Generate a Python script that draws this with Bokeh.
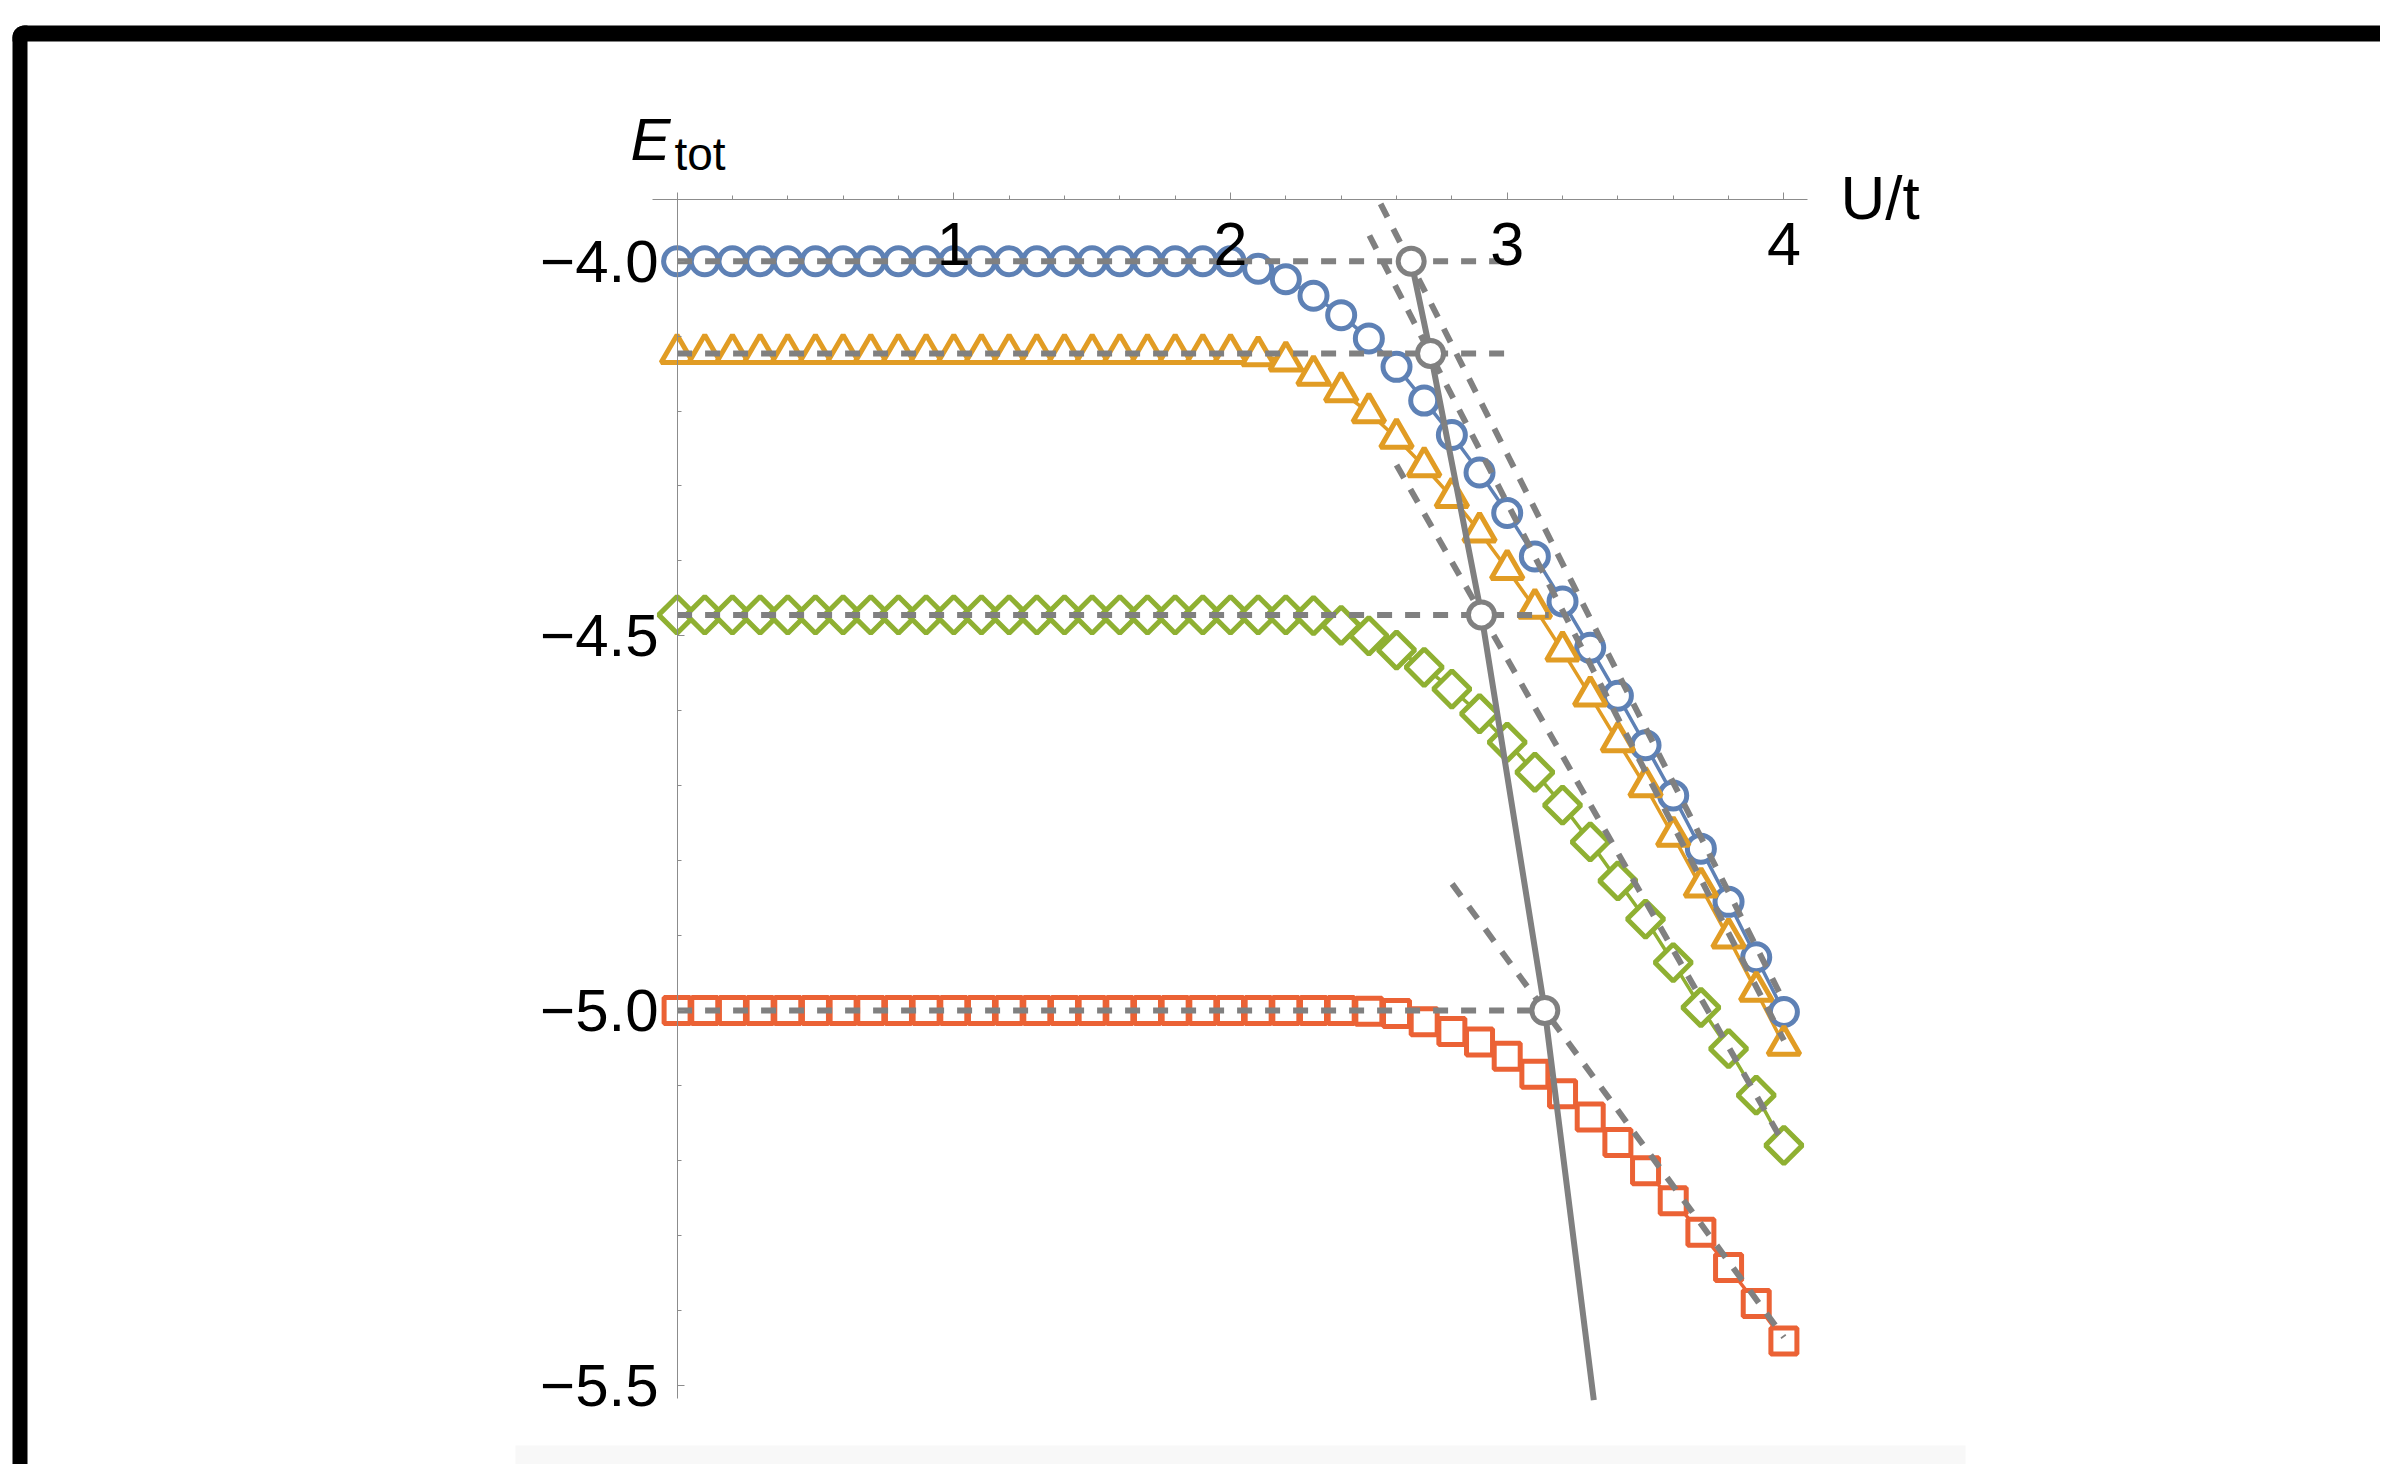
from bokeh.plotting import figure
from bokeh.models import LinearAxis, FixedTicker, Range1d, Label, BoxAnnotation
from bokeh.embed import file_html
from bokeh.resources import INLINE

# ---------------- data ----------------
U = [0.0, 0.1, 0.2, 0.3, 0.4, 0.5, 0.6, 0.7, 0.8, 0.9,
     1.0, 1.1, 1.2, 1.3, 1.4, 1.5, 1.6, 1.7, 1.8, 1.9,
     2.0, 2.1, 2.2, 2.3, 2.4, 2.5, 2.6, 2.7, 2.8, 2.9,
     3.0, 3.1, 3.2, 3.3, 3.4, 3.5, 3.6, 3.7, 3.8, 3.9, 4.0]

E_blue = [-4.0, -4.0, -4.0, -4.0, -4.0, -4.0, -4.0, -4.0, -4.0, -4.0,
          -4.0, -4.0, -4.0, -4.0, -4.0, -4.0, -4.0, -4.0, -4.0, -4.0,
          -4.0, -4.010, -4.024, -4.046, -4.072, -4.103, -4.141, -4.186, -4.232, -4.282,
          -4.336, -4.394, -4.454, -4.516, -4.580, -4.646, -4.713, -4.784, -4.855, -4.929, -5.002]

E_orange = [-4.123, -4.123, -4.123, -4.123, -4.123, -4.123, -4.123, -4.123, -4.123, -4.123,
            -4.123, -4.123, -4.123, -4.123, -4.123, -4.123, -4.123, -4.123, -4.123, -4.123,
            -4.123, -4.126, -4.133, -4.152, -4.174, -4.202, -4.236, -4.274, -4.315, -4.361,
            -4.411, -4.463, -4.520, -4.580, -4.641, -4.701, -4.767, -4.835, -4.903, -4.974, -5.046]

E_green = [-4.472, -4.472, -4.472, -4.472, -4.472, -4.472, -4.472, -4.472, -4.472, -4.472,
           -4.472, -4.472, -4.472, -4.472, -4.472, -4.472, -4.472, -4.472, -4.472, -4.472,
           -4.472, -4.472, -4.472, -4.473, -4.486, -4.500, -4.519, -4.542, -4.571, -4.604,
           -4.642, -4.682, -4.726, -4.775, -4.827, -4.878, -4.936, -4.996, -5.051, -5.113, -5.180]

E_red = [-5.0, -5.0, -5.0, -5.0, -5.0, -5.0, -5.0, -5.0, -5.0, -5.0,
         -5.0, -5.0, -5.0, -5.0, -5.0, -5.0, -5.0, -5.0, -5.0, -5.0,
         -5.0, -5.0, -5.0, -5.0, -5.0, -5.001, -5.004, -5.015, -5.028, -5.042,
         -5.061, -5.085, -5.111, -5.142, -5.176, -5.214, -5.254, -5.296, -5.343, -5.391, -5.441]

# plateau levels (horizontal dashed guides) and where they stop
level_E = [-4.0, -4.1231, -4.4721, -5.0]
level_end_U = [3.0, 3.0, 3.15, 3.1]

# large-U asymptotes (slanted dashed guides)
asym_U0 = [2.5425, 2.502, 2.600, 2.801]
asym_E0 = [-3.9234, -3.9657, -4.272, -4.831]
asym_U1 = [4.0, 4.0, 4.0, 4.0]
asym_E1 = [-4.988, -5.040, -5.178, -5.436]

# crossing points and the boundary line through them
cross_U = [2.653, 2.723, 2.907, 3.136]
cross_E = [-4.0, -4.1231, -4.4721, -5.0]
bound_U = [2.653, 2.723, 2.907, 3.136, 3.313]
bound_E = [-4.0, -4.1231, -4.4721, -5.0, -5.52]

x_major = [0, 1, 2, 3, 4]
x_labels = {0: "", 1: "1", 2: "2", 3: "3", 4: "4"}
x_minor = [0.0, 0.2, 0.4, 0.6, 0.8, 1.0, 1.2, 1.4, 1.6, 1.8, 2.0,
           2.2, 2.4, 2.6, 2.8, 3.0, 3.2, 3.4, 3.6, 3.8, 4.0]
y_major = [-5.5, -5.0, -4.5, -4.0]
y_labels = {-5.5: "\u22125.5", -5.0: "\u22125.0", -4.5: "\u22124.5", -4.0: "\u22124.0"}
y_minor = [-5.5, -5.4, -5.3, -5.2, -5.1, -5.0, -4.9, -4.8, -4.7, -4.6,
           -4.5, -4.4, -4.3, -4.2, -4.1, -4.0]

# plotted extents of the two axes
X_AXIS_AT = -3.9177
X_BOUNDS = (-0.0889, 4.0853)
Y_BOUNDS = (-5.5178, -3.9177)

# ---------------- layout (canvas pixels) ----------------
W, H = 2380, 1464
X0, PXU = 676.6, 276.7     # canvas x of U=0, pixels per unit U
Y0, PXE = 260.7, 749.3     # canvas y of E=-4, pixels per unit E


def ux(px):
    return (px - X0) / PXU


def ey(py):
    return -4.0 - (py - Y0) / PXE


BLUE, ORANGE, GREEN, RED = "#5E81B5", "#E19C24", "#8FB032", "#EB6235"
GRAY = "#808080"
AX = "#8c8c8c"
FONT = "Liberation Sans"

p = figure(width=W, height=H, title=None,
           x_range=Range1d(ux(0), ux(W)), y_range=Range1d(ey(H), ey(0)),
           output_backend="svg", toolbar_location=None,
           x_axis_location=None, y_axis_location=None,
           min_border_left=0, min_border_right=0, min_border_top=0, min_border_bottom=0)
p.outline_line_color = None
p.xgrid.visible = False
p.ygrid.visible = False
p.background_fill_color = "white"
p.border_fill_color = "white"

# x axis across the top of the data, labels hanging below the line
xax = LinearAxis(fixed_location=X_AXIS_AT, bounds=X_BOUNDS,
                 ticker=FixedTicker(ticks=x_major, minor_ticks=x_minor))
xax.major_label_overrides = x_labels
xax.axis_line_color = AX
xax.axis_line_width = 1
xax.major_tick_line_color = AX
xax.minor_tick_line_color = AX
xax.major_tick_out = 7
xax.major_tick_in = 0
xax.minor_tick_out = 4
xax.minor_tick_in = 0
xax.major_label_standoff = -72
xax.major_label_text_font = FONT
xax.major_label_text_font_size = "61px"
xax.major_label_text_color = "black"
p.add_layout(xax, "above")

# y axis at U = 0, ticks to the right, labels on the left
yax = LinearAxis(fixed_location=0, bounds=Y_BOUNDS,
                 ticker=FixedTicker(ticks=y_major, minor_ticks=y_minor))
yax.major_label_overrides = y_labels
yax.axis_line_color = AX
yax.axis_line_width = 1
yax.major_tick_line_color = AX
yax.minor_tick_line_color = AX
yax.major_tick_out = 7
yax.major_tick_in = 0
yax.minor_tick_out = 4
yax.minor_tick_in = 0
yax.major_label_standoff = -144
yax.major_label_text_font = FONT
yax.major_label_text_font_size = "60px"
yax.major_label_text_color = "black"
p.add_layout(yax, "right")

# series
for E, c in [(E_blue, BLUE), (E_orange, ORANGE), (E_green, GREEN), (E_red, RED)]:
    p.line(U, E, line_color=c, line_width=3.5)
p.scatter(U, E_blue, marker="circle", size=27, line_color=BLUE, line_width=5, fill_color="white")
p.scatter(U, E_orange, marker="triangle", size=32, line_color=ORANGE, line_width=5, fill_color="white")
p.scatter(U, E_green, marker="square", angle=0.7853981634, size=26, line_color=GREEN,
          line_width=5, fill_color="white")
p.scatter(U, E_red, marker="square", size=26, line_color=RED, line_width=5, fill_color="white")

# dashed guides
p.segment(x0=[0.0] * len(level_E), y0=level_E, x1=level_end_U, y1=level_E,
          line_color=GRAY, line_width=6, line_dash="15 13")
p.segment(x0=asym_U0, y0=asym_E0, x1=asym_U1, y1=asym_E1,
          line_color=GRAY, line_width=6, line_dash="15 13")

# boundary line and crossing points
p.line(bound_U, bound_E, line_color=GRAY, line_width=6)
p.scatter(cross_U, cross_E, marker="circle", size=26, line_color=GRAY, line_width=5, fill_color="white")

# axis titles
p.add_layout(Label(x=ux(1840), y=ey(197), text="U/t", text_font=FONT, text_font_size="62px",
                   text_baseline="alphabetic", text_align="left", text_color="black"))
p.add_layout(Label(x=ux(630), y=ey(139), text="E", text_font=FONT, text_font_style="italic",
                   text_font_size="60px", text_baseline="alphabetic", text_align="left",
                   text_color="black"))
p.add_layout(Label(x=ux(674), y=ey(153), text="tot", text_font=FONT, text_font_size="46px",
                   text_baseline="alphabetic", text_align="left", text_color="black"))

# screenshot frame decoration
p.add_layout(BoxAnnotation(left=ux(12), right=ux(W + 10), top=ey(25), bottom=ey(41),
                           fill_color="black", fill_alpha=1, line_color=None,
                           border_radius=(12, 0, 0, 0)))
p.add_layout(BoxAnnotation(left=ux(12), right=ux(27), top=ey(25), bottom=ey(H + 10),
                           fill_color="black", fill_alpha=1, line_color=None,
                           border_radius=(12, 0, 0, 0)))
p.add_layout(BoxAnnotation(left=ux(515), right=ux(1965), top=ey(1445), bottom=ey(1471),
                           fill_color="#f8f8f8", fill_alpha=1, line_color=None, level="underlay"))

open("out.html", "w").write(file_html(p, INLINE))
